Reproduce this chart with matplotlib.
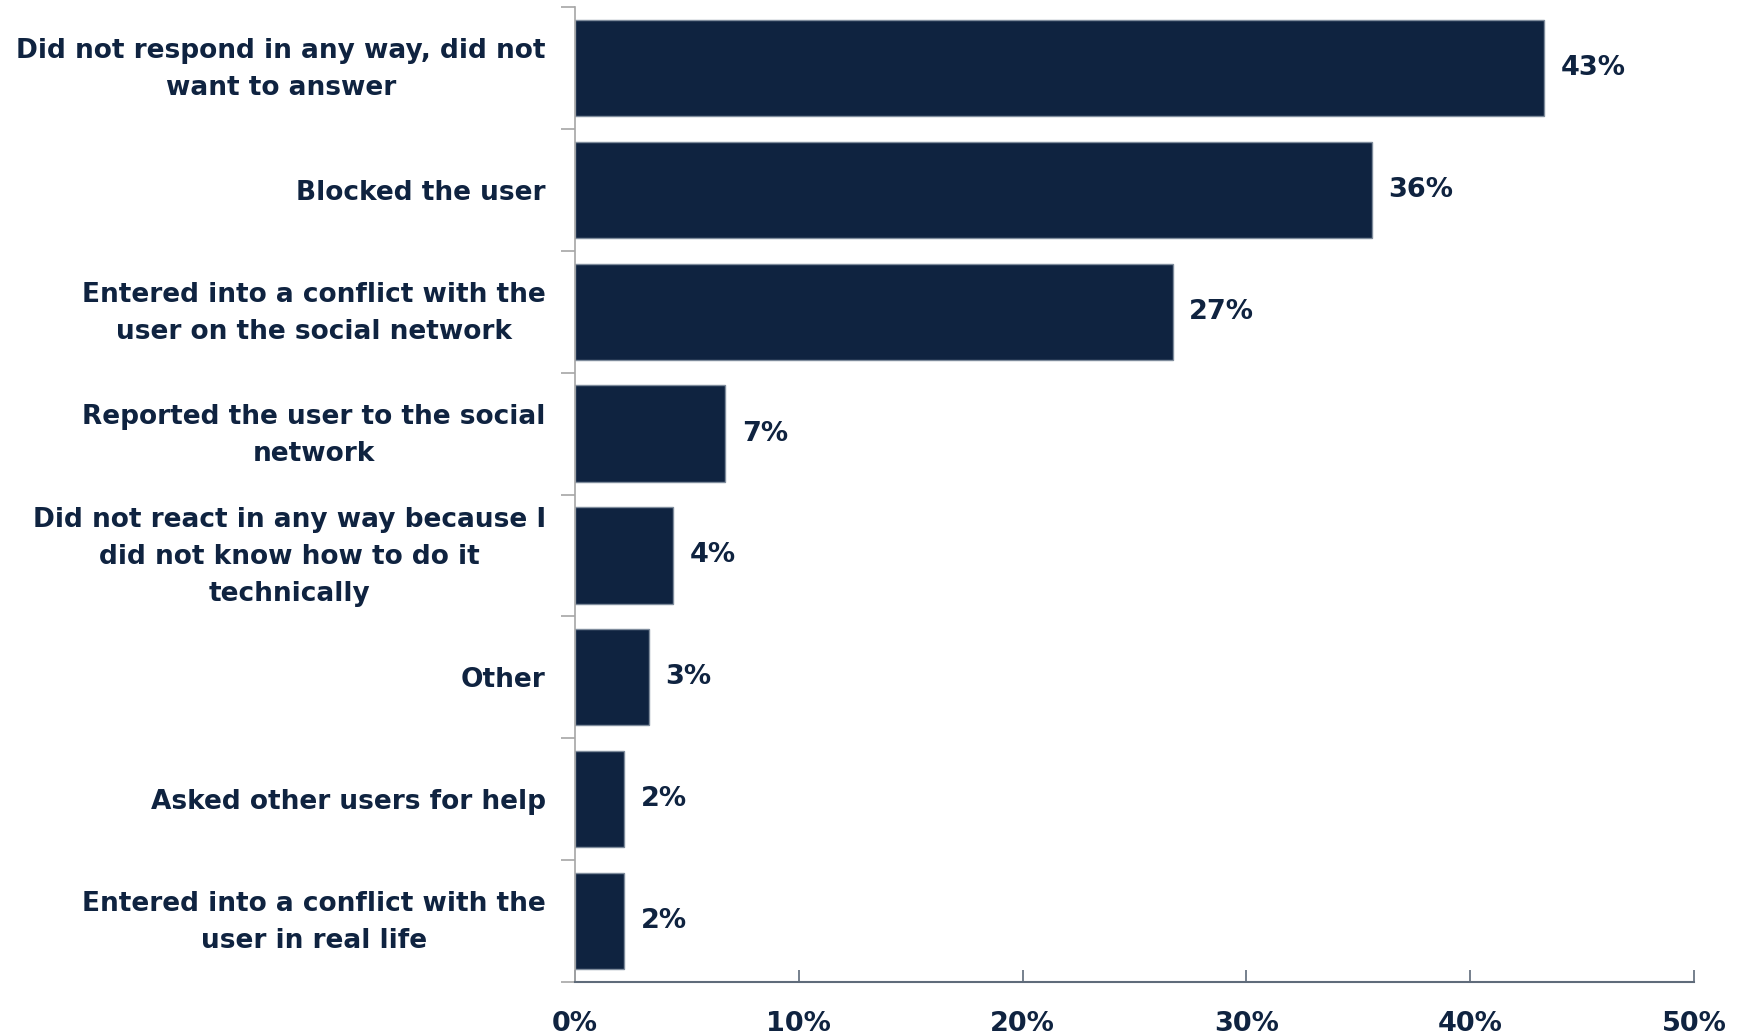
import matplotlib
matplotlib.use("Agg")
import matplotlib.pyplot as plt
import matplotlib.transforms as mtransforms
import numpy as np

categories = [
    "Did not respond in any way, did not\nwant to answer",
    "Blocked the user",
    "Entered into a conflict with the\nuser on the social network",
    "Reported the user to the social\nnetwork",
    "Did not react in any way because I\ndid not know how to do it\ntechnically",
    "Other",
    "Asked other users for help",
    "Entered into a conflict with the\nuser in real life",
]
values = [43.3, 35.6, 26.7, 6.7, 4.4, 3.3, 2.2, 2.2]
value_labels = ["43%", "36%", "27%", "7%", "4%", "3%", "2%", "2%"]
xticks = [0, 10, 20, 30, 40, 50]
xtick_labels = ["0%", "10%", "20%", "30%", "40%", "50%"]

navy = "#0F2340"
plt.rcParams["font.family"] = ["DejaVu Sans"]

fig = plt.figure(figsize=(17.44, 10.36), dpi=100)
ax = fig.add_axes([0.3297, 0.0521, 0.6416, 0.9411])

y = np.arange(len(categories))
ax.barh(y, values, height=0.79, color=navy, edgecolor="#7F8C9C", linewidth=1)

for yi, v, lab in zip(y, values, value_labels):
    ax.text(v + 0.75, yi, lab, va="center", ha="left", fontsize=19.5,
            fontweight="bold", color=navy)

ax.set_ylim(len(categories) - 0.5, -0.5)
ax.set_xlim(0, 50)

ax.set_yticks(y)
ax.set_yticklabels(categories, fontsize=19, fontweight="bold", color=navy,
                   multialignment="center", linespacing=1.55)
ax.set_yticks(np.arange(-0.5, len(categories)), minor=True)
ax.tick_params(axis="y", which="major", length=0, pad=21)
ax.tick_params(axis="y", which="minor", length=10, width=1.2, color="#A6A6A6",
               direction="out")

# nudge the wrapped labels up a little
shift = mtransforms.ScaledTranslation(0, 5 / 72, fig.dpi_scale_trans)
for lbl in ax.get_yticklabels():
    if "\n" in lbl.get_text():
        lbl.set_transform(lbl.get_transform() + shift)

ax.set_xticks(xticks)
ax.set_xticklabels(xtick_labels, fontsize=19.5, fontweight="bold", color=navy)
ax.tick_params(axis="x", which="major", length=9, width=1.2, color="#5F6B7A",
               direction="in", pad=21)

for s in ["top", "right"]:
    ax.spines[s].set_visible(False)
ax.spines["left"].set_color("#A6A6A6")
ax.spines["left"].set_linewidth(1.2)
ax.spines["bottom"].set_color("#5F6B7A")
ax.spines["bottom"].set_linewidth(1.5)

fig.savefig("out.png", dpi=100)
